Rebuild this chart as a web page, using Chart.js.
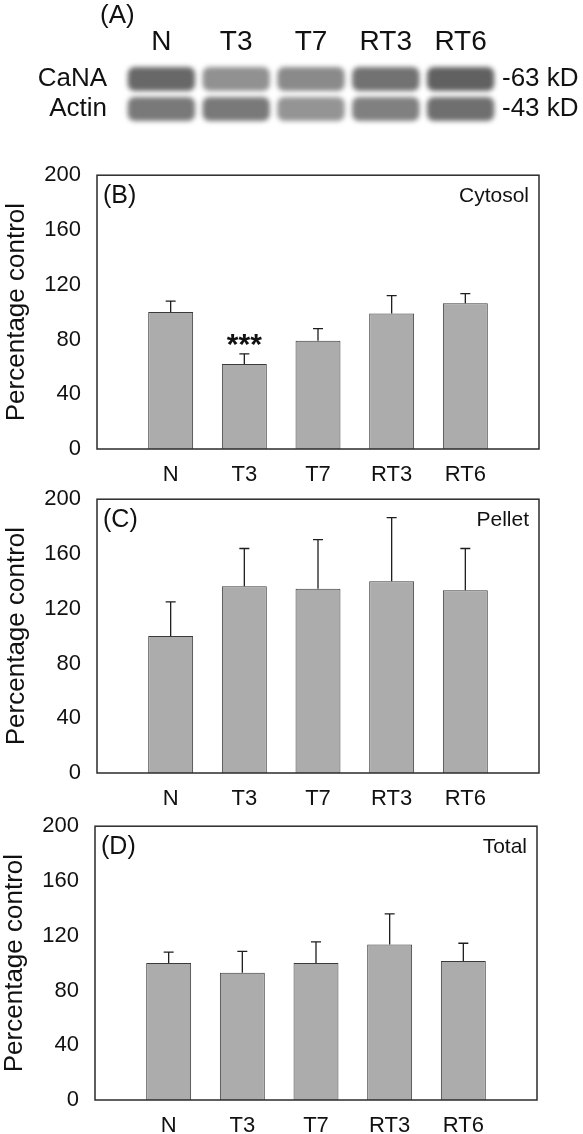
<!DOCTYPE html>
<html>
<head>
<meta charset="utf-8">
<title>CaNA levels</title>
<script src="https://cdn.jsdelivr.net/npm/chart.js@4.4.1/dist/chart.umd.min.js"></script>
<style>
  html, body { margin: 0; padding: 0; background: #fff; }
  #wrap { position: relative; width: 583px; height: 1134px; overflow: hidden; }
  canvas { position: absolute; }
</style>
</head>
<body>
<div id="wrap">
  <canvas id="blot" width="583" height="130" style="left:0;top:0"></canvas>
  <canvas id="chartB" width="583" height="348" style="left:0;top:146px"></canvas>
  <canvas id="chartC" width="583" height="348" style="left:0;top:470px"></canvas>
  <canvas id="chartD" width="583" height="348" style="left:-2px;top:797px"></canvas>
</div>
<script>
// data
const groups = ['N', 'T3', 'T7', 'RT3', 'RT6'];
const yTicks = [0, 40, 80, 120, 160, 200];

const cytosolMean = [100, 62, 79, 99, 106.5];
const cytosolErr = [8, 7.5, 9, 13, 7];
const cytosolSig = ['', '***', '', '', ''];

const pelletMean = [100, 136.5, 134.5, 140, 133.5];
const pelletErr = [25, 27.5, 36, 46.5, 30.5];

const totalMean = [100, 93, 100, 113.5, 101.5];
const totalErr = [8, 15.5, 15.5, 22.5, 13];

// western blot (A): band darkness per lane, 0 = white, 1 = black
const blotRows = ['CaNA', 'Actin'];
const blotSizes = ['-63 kD', '-43 kD'];
const canaBand = [0.86, 0.62, 0.66, 0.8, 0.9];
const actinBand = [0.76, 0.76, 0.6, 0.72, 0.82];

const FONT = '"Liberation Sans", Arial, Helvetica, sans-serif';
Chart.defaults.font.family = FONT;
Chart.defaults.color = '#111';

function shade(d) {
    const g = Math.round(250 - d * 170);
    return `rgb(${g},${g},${g})`;
}

// box round the plot area
const framePlugin = {
    id: 'frame',
    afterDraw(chart) {
        const { ctx, chartArea: a } = chart;
        ctx.save();
        ctx.strokeStyle = '#2b2b2b';
        ctx.lineWidth = 1.5;
        ctx.strokeRect(a.left, a.top, a.right - a.left, a.bottom - a.top);
        ctx.restore();
    }
};

// upper error bars, significance stars, panel letter and fraction name
const panelPlugin = {
    id: 'panelText',
    afterDatasetsDraw(chart, args, opts) {
        const { ctx, chartArea: a } = chart;
        const y = chart.scales.y;
        const meta = chart.getDatasetMeta(0);
        const means = chart.data.datasets[0].data.map(p => p.y);
        ctx.save();
        ctx.strokeStyle = '#1e1e1e';
        ctx.lineWidth = 1.3;
        meta.data.forEach((bar, i) => {
            const top = y.getPixelForValue(means[i] + opts.errs[i]);
            ctx.beginPath();
            ctx.moveTo(bar.x, bar.y);
            ctx.lineTo(bar.x, top);
            ctx.moveTo(bar.x - 5, top);
            ctx.lineTo(bar.x + 5, top);
            ctx.stroke();
            if (opts.sig && opts.sig[i]) {
                ctx.fillStyle = '#111';
                ctx.font = `bold 30px ${FONT}`;
                ctx.textAlign = 'center';
                ctx.textBaseline = 'alphabetic';
                ctx.fillText(opts.sig[i], bar.x, top);
            }
        });
        ctx.fillStyle = '#111';
        ctx.textBaseline = 'middle';
        ctx.textAlign = 'left';
        ctx.font = `25px ${FONT}`;
        ctx.fillText(opts.tag, a.left + 6, a.top + 21);
        ctx.textAlign = 'right';
        ctx.font = `21px ${FONT}`;
        ctx.fillText(opts.title, a.right - 10, a.top + 21);
        ctx.restore();
    }
};

function makePanel(id, tag, title, means, errs, sig) {
    new Chart(document.getElementById(id), {
        type: 'bar',
        data: {
            datasets: [{
                data: means.map((v, i) => ({ x: i + 1, y: v })),
                backgroundColor: '#acacac',
                borderColor: '#3a3a3a',
                borderWidth: 1,
                barPercentage: 0.61,
                categoryPercentage: 1
            }]
        },
        options: {
            responsive: false,
            animation: false,
            events: [],
            layout: { padding: { top: 20, right: 44, left: 0, bottom: 0 } },
            plugins: {
                legend: { display: false },
                tooltip: { enabled: false },
                panelText: { tag: tag, title: title, errs: errs, sig: sig }
            },
            scales: {
                x: {
                    type: 'linear',
                    offset: false,
                    min: 0,
                    max: groups.length + 1,
                    afterBuildTicks: s => { s.ticks = groups.map((g, i) => ({ value: i + 1 })); },
                    afterFit: s => { s.height = 45; },
                    grid: { display: false, drawTicks: false, offset: false },
                    border: { display: false },
                    ticks: {
                        padding: 13,
                        autoSkip: false,
                        maxRotation: 0,
                        font: { size: 22 },
                        callback: v => groups[v - 1] ?? ''
                    }
                },
                y: {
                    min: 0,
                    max: 200,
                    afterBuildTicks: s => { s.ticks = yTicks.map(v => ({ value: v })); },
                    afterFit: s => { s.width = 97; },
                    grid: { display: false, drawTicks: false },
                    border: { display: false },
                    ticks: { padding: 16, autoSkip: false, font: { size: 22 } },
                    title: {
                        display: true,
                        text: 'Percentage control',
                        font: { size: 26 },
                        padding: { top: 1, bottom: 0 }
                    }
                }
            }
        },
        plugins: [panelPlugin, framePlugin]
    });
}

// blot bands are drawn blurred
const blurPlugin = {
    id: 'blur',
    beforeDatasetsDraw(chart) {
        chart.ctx.save();
        chart.ctx.filter = 'blur(2.5px)';
    },
    afterDatasetsDraw(chart) {
        chart.ctx.restore();
    },
    afterDraw(chart) {
        const ctx = chart.ctx;
        ctx.save();
        ctx.fillStyle = '#111';
        ctx.font = `26px ${FONT}`;
        ctx.textAlign = 'left';
        ctx.textBaseline = 'middle';
        ctx.fillText('(A)', 100, 16);
        ctx.restore();
    }
};

const rowAxis = (pos, names, pad, width) => ({
    position: pos,
    min: 0,
    max: blotRows.length,
    reverse: true,
    afterBuildTicks: s => { s.ticks = names.map((n, i) => ({ value: i + 0.5 })); },
    afterFit: s => {
        s.width = width;
        s.paddingTop = 0;
        s.paddingBottom = 0;
    },
    grid: { display: false, drawTicks: false },
    border: { display: false },
    ticks: { padding: pad, autoSkip: false, font: { size: 26 }, callback: (v, i) => names[i] }
});

new Chart(document.getElementById('blot'), {
    type: 'bar',
    data: {
        labels: groups,
        datasets: [canaBand, actinBand].map((band, r) => ({
            data: band.map(() => [r + 0.1, r + 0.9]),
            backgroundColor: band.map(shade),
            borderWidth: 0,
            borderRadius: 7,
            borderSkipped: false,
            grouped: false,
            clip: false,
            barPercentage: 0.9,
            categoryPercentage: 1
        }))
    },
    options: {
        responsive: false,
        animation: false,
        events: [],
        layout: { padding: { top: 0, bottom: 6, left: 0, right: 0 } },
        plugins: { legend: { display: false }, tooltip: { enabled: false } },
        scales: {
            x: {
                position: 'top',
                afterFit: s => { s.height = 64; },
                grid: { display: false, drawTicks: false },
                border: { display: false },
                ticks: { padding: 5, autoSkip: false, font: { size: 28 } }
            },
            y: rowAxis('left', blotRows, 17, 124),
            y2: rowAxis('right', blotSizes, 4, 85)
        }
    },
    plugins: [blurPlugin]
});

makePanel('chartB', '(B)', 'Cytosol', cytosolMean, cytosolErr, cytosolSig);
makePanel('chartC', '(C)', 'Pellet', pelletMean, pelletErr, null);
makePanel('chartD', '(D)', 'Total', totalMean, totalErr, null);
</script>
</body>
</html>
